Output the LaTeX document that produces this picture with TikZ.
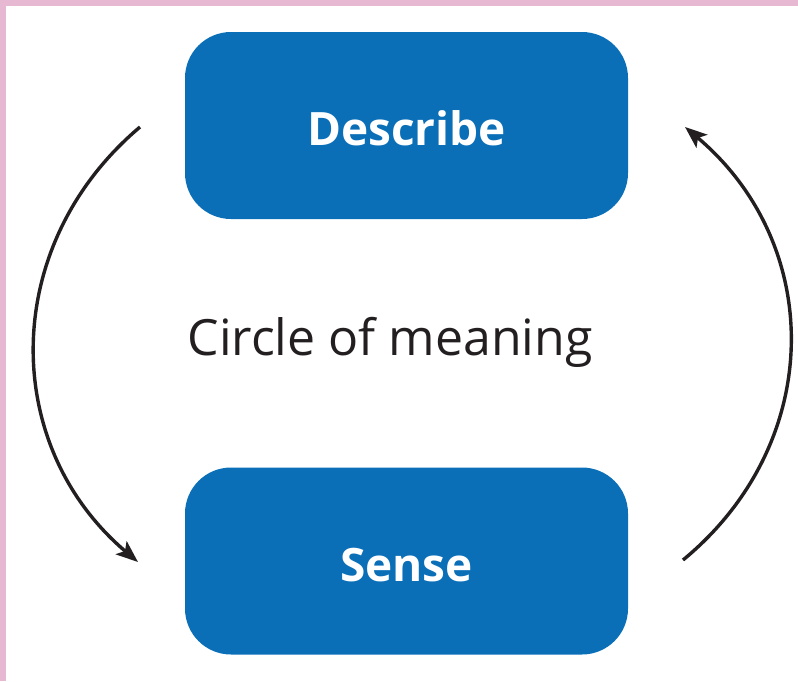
\documentclass[tikz,border=0pt]{standalone}
\usepackage{fontspec}
\setmainfont{Open Sans}
\usetikzlibrary{arrows.meta}
\definecolor{boxblue}{HTML}{0B6FB8}
\definecolor{framepink}{HTML}{E6B8D2}
\definecolor{inkdark}{HTML}{231F20}
\tikzset{
  stagebox/.style={fill=boxblue, rounded corners=46pt, minimum width=443pt, minimum height=187pt, inner sep=0pt, text height=40pt, text depth=0pt, text=white, font=\fontsize{46}{52}\selectfont\bfseries},
  cyclearrow/.style={draw=inkdark, line width=3.4pt, -{Stealth[length=22pt,width=17pt,inset=5pt]}}
}
\begin{document}
\begin{tikzpicture}[x=1pt,y=1pt]
\useasboundingbox (0,0) rectangle (798,-681);
\fill[framepink] (0,0) rectangle (798,-6);
\fill[framepink] (0,0) rectangle (6,-681);
\node[stagebox] (describe) at (406.5,-125.5) {Describe};
\node[stagebox] (sense) at (406.5,-561) {Sense};
\node[text=inkdark, font=\fontsize{50}{56}\selectfont, inner sep=0pt] (circle) at (390,-342) {Circle of meaning};
\coordinate (l1) at (140,-127);
\coordinate (l2) at (138,-562);
\coordinate (r1) at (683,-560);
\coordinate (r2) at (685,-127);
\draw[cyclearrow] (l1) .. controls (0,-245) and (0,-445) .. (l2);
\draw[cyclearrow] (r1) .. controls (825,-443) and (825,-245) .. (r2);
\end{tikzpicture}
\end{document}
